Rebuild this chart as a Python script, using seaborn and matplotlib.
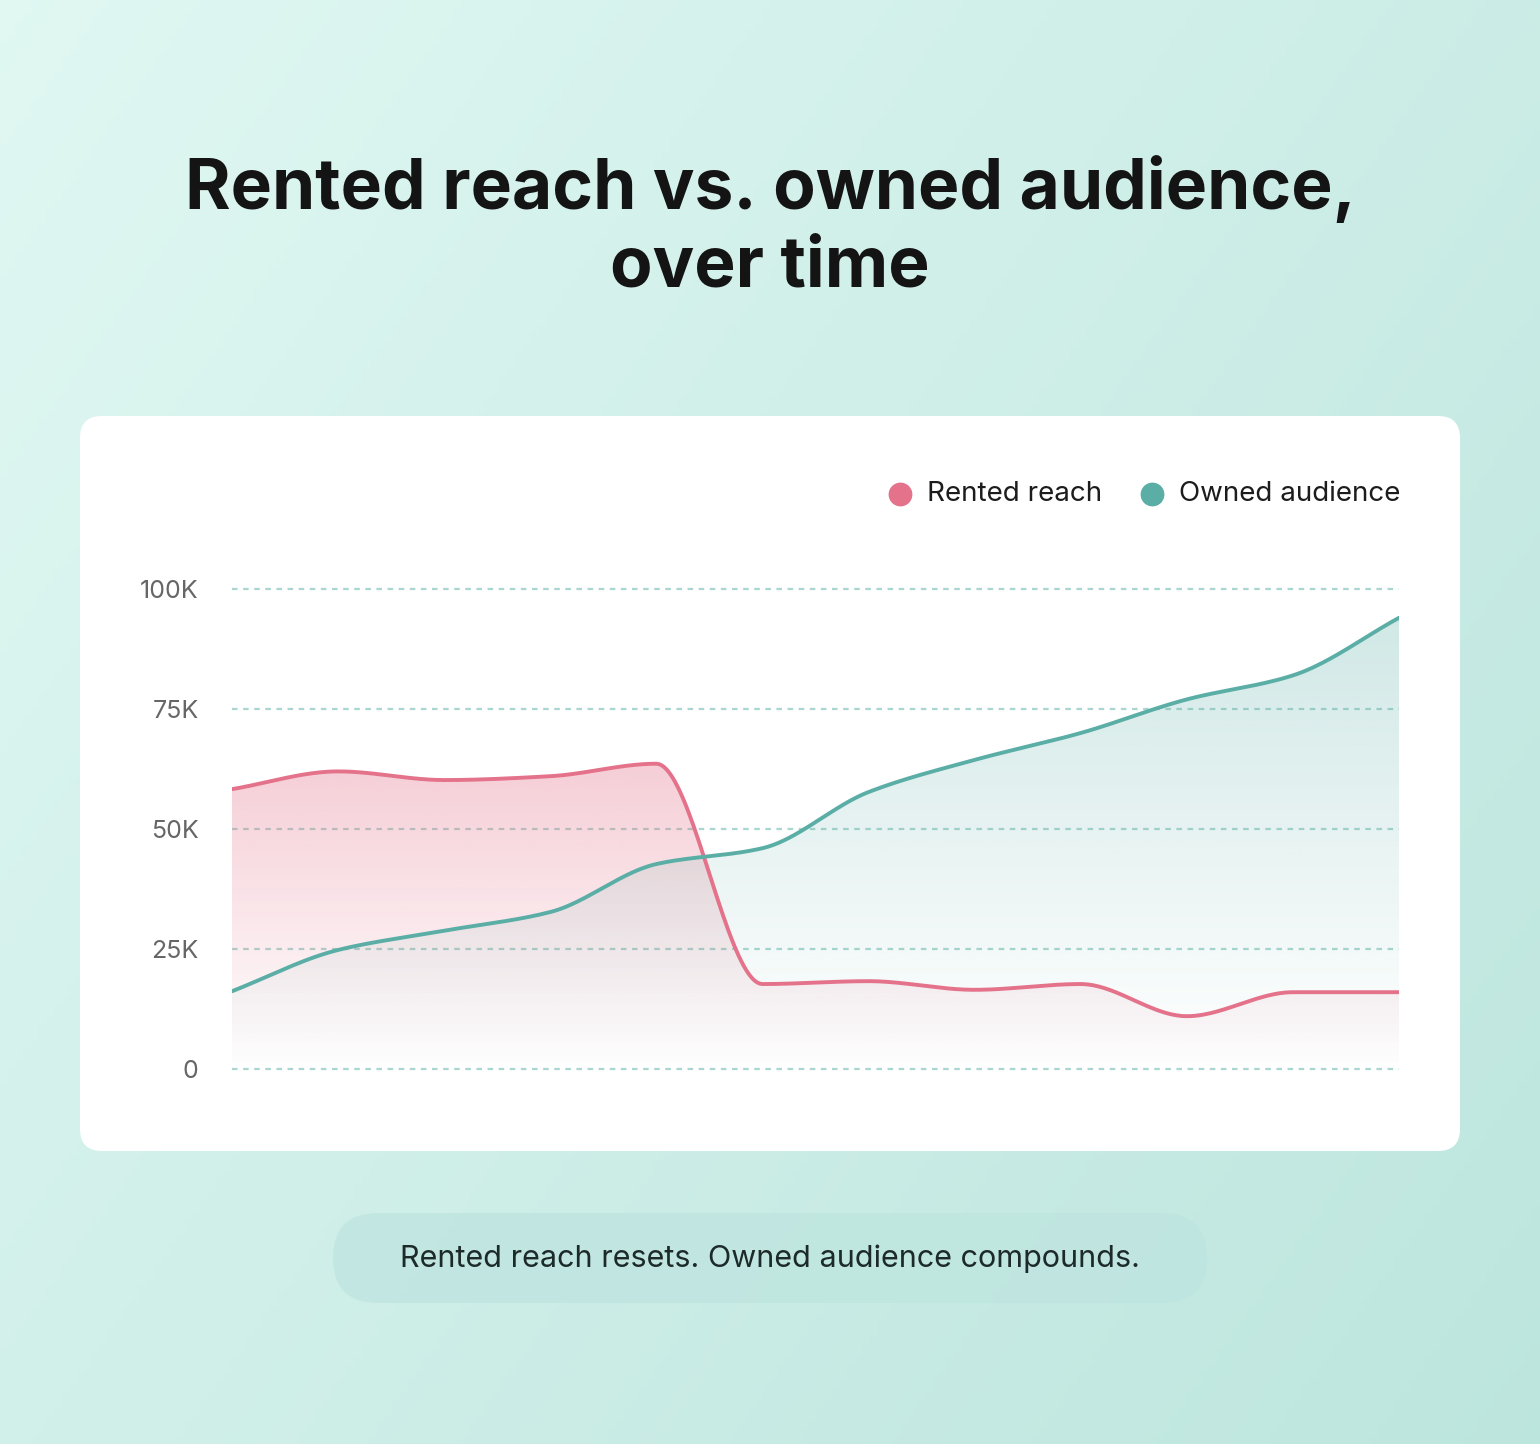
import numpy as np
import matplotlib
matplotlib.use("Agg")
import matplotlib.pyplot as plt
import seaborn as sns
from matplotlib.patches import FancyBboxPatch, Polygon
import pandas as pd

sns.set_theme(style="white")
plt.rcParams['font.family'] = ['Inter', 'DejaVu Sans']

periods = list(range(12))
rented = [58.3, 62.0, 60.2, 61.0, 63.6, 17.7, 18.3, 16.5, 17.7, 11.0, 16.0, 16.0]
owned = [16.2, 24.8, 28.8, 32.7, 42.7, 46.0, 57.7, 64.4, 70.0, 77.0, 82.0, 94.0]
yticks = [0, 25, 50, 75, 100]
ytick_labels = ["0", "25K", "50K", "75K", "100K"]
RED = "#e4728a"
TEAL = "#5aaea6"

def monotone(x, y, n=40):
    x = np.asarray(x, float); y = np.asarray(y, float)
    h = np.diff(x); d = np.diff(y) / h
    m = np.zeros_like(y)
    m[0], m[-1] = d[0], d[-1]
    for i in range(1, len(y) - 1):
        if d[i-1] * d[i] <= 0:
            m[i] = 0
        else:
            m[i] = (np.sign(d[i-1]) * min(abs(d[i-1]), abs(d[i]), 0.5 * abs((h[i-1]*d[i] + h[i]*d[i-1]) / (h[i-1]+h[i]))) * 3) if False else \
                3 * (h[i-1] + h[i]) / ((2*h[i] + h[i-1]) / d[i-1] + (h[i] + 2*h[i-1]) / d[i])
    xs, ys = [], []
    for i in range(len(h)):
        t = np.linspace(0, 1, n, endpoint=False)
        h00 = 2*t**3 - 3*t**2 + 1; h10 = t**3 - 2*t**2 + t
        h01 = -2*t**3 + 3*t**2; h11 = t**3 - t**2
        xs.append(x[i] + t*h[i])
        ys.append(h00*y[i] + h10*h[i]*m[i] + h01*y[i+1] + h11*h[i]*m[i+1])
    xs.append([x[-1]]); ys.append([y[-1]])
    return np.concatenate(xs), np.concatenate(ys)

W, H = 1540, 1444
fig = plt.figure(figsize=(W/100, H/100), dpi=100)

# background gradient
bg = fig.add_axes([0, 0, 1, 1]); bg.axis("off")
gx = np.linspace(0, 1, 200); gy = np.linspace(0, 1, 200)
GX, GY = np.meshgrid(gx, gy)
t = np.clip(0.6*GX + 0.4*GY, 0, 1)
c1 = np.array([0.88, 0.97, 0.95]); c2 = np.array([0.74, 0.90, 0.87])
img = c1[None, None, :]*(1-t[..., None]) + c2[None, None, :]*t[..., None]
bg.imshow(img, extent=[0, W, H, 0], aspect="auto")
bg.set_xlim(0, W); bg.set_ylim(H, 0)
bg.add_patch(FancyBboxPatch((80, 416), 1380, 735, boxstyle="round,pad=0,rounding_size=22",
                            fc="white", ec="none"))
bg.add_patch(FancyBboxPatch((333, 1213), 874, 90, boxstyle="round,pad=0,rounding_size=45",
                            fc="#bfe5e0", ec="none", alpha=0.8))
bg.text(770, 1259, "Rented reach resets. Owned audience compounds.", ha="center", va="center",
        fontsize=22, color="#1c2a2a")
bg.text(770, 228, "Rented reach vs. owned audience,\nover time", ha="center", va="center",
        fontsize=50, fontweight="bold", color="#141414", linespacing=1.25)
# legend
bg.scatter([900], [494], s=260, color=RED, zorder=5)
bg.text(927, 494, "Rented reach", va="center", fontsize=20, color="#1c1c1c")
bg.scatter([1152], [494], s=260, color=TEAL, zorder=5)
bg.text(1179, 494, "Owned audience", va="center", fontsize=20, color="#1c1c1c")

# chart axes: x 232-1399, y 589(100) - 1069(0)
ax = fig.add_axes([232/W, 1 - 1069/H, (1399-232)/W, (1069-589)/H])
ax.set_xlim(0, 11); ax.set_ylim(0, 100)
ax.patch.set_alpha(0)
for s in ax.spines.values(): s.set_visible(False)
ax.set_xticks([])
ax.set_yticks(yticks); ax.set_yticklabels(ytick_labels, fontsize=18, color="#666666")
ax.tick_params(axis="y", length=0, pad=24)
for yv in yticks:
    ax.axhline(yv, color="#a9d6d0", lw=1.6, ls=(0, (2.5, 2.5)), zorder=0, clip_on=False)

def grad_fill(xs, ys, color, top_alpha, zorder):
    rgb = np.array(matplotlib.colors.to_rgb(color))
    a = np.linspace(0, top_alpha, 256)[:, None]
    g = np.zeros((256, 1, 4)); g[..., :3] = rgb; g[..., 3] = a
    im = ax.imshow(g, extent=[0, 11, 0, ys.max()], origin="lower", aspect="auto", zorder=zorder)
    poly = Polygon(np.column_stack([np.r_[xs, xs[-1], xs[0]], np.r_[ys, 0, 0]]),
                   closed=True, fc="none", ec="none", transform=ax.transData)
    ax.add_patch(poly); im.set_clip_path(poly)

df = pd.DataFrame({"p": periods, "rented": rented, "owned": owned})
xr, yr = monotone(df.p, df.rented)
xo, yo = monotone(df.p, df.owned)
grad_fill(xr, yr, RED, 0.35, 1)
grad_fill(xo, yo, TEAL, 0.28, 2)
sns.lineplot(x=xr, y=yr, ax=ax, color=RED, lw=2.8, zorder=4, sort=False)
sns.lineplot(x=xo, y=yo, ax=ax, color=TEAL, lw=2.8, zorder=4, sort=False)
ax.set_xlim(0, 11); ax.set_ylim(0, 100)

fig.savefig("out.png", dpi=100)
